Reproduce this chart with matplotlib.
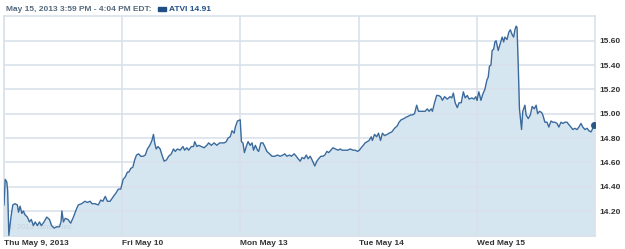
import matplotlib
matplotlib.use("Agg")
import matplotlib.pyplot as plt
import matplotlib.patches as mpatches
import numpy as np

plt.rcParams["font.family"] = ["Liberation Sans", "DejaVu Sans"]

# intraday ATVI quotes, minutes after the 9:30 open and price
days = ["Thu May 9, 2013", "Fri May 10", "Mon May 13", "Tue May 14", "Wed May 15"]

thu_min = [0, 4, 9, 12, 16, 23, 29, 36, 44, 48, 53, 59, 64, 69, 77, 84, 90, 97, 103, 110,
           117, 123, 132, 141, 150, 157, 165, 174, 183, 188, 191, 196, 202, 211, 220, 229,
           238, 245, 256, 267, 275, 284, 290, 300, 311, 319, 326, 334, 341, 350, 361, 370,
           377, 385]
thu_px = [14.25, 14.46, 14.44, 14.37, 14.00, 14.15, 14.25, 14.26, 14.25, 14.19, 14.24, 14.18,
          14.20, 14.17, 14.15, 14.11, 14.13, 14.08, 14.11, 14.08, 14.11, 14.08, 14.11, 14.15,
          14.13, 14.08, 14.06, 14.07, 14.07, 14.11, 14.20, 14.11, 14.14, 14.13, 14.10, 14.15,
          14.21, 14.25, 14.26, 14.28, 14.27, 14.28, 14.26, 14.26, 14.25, 14.29, 14.28, 14.32,
          14.28, 14.28, 14.32, 14.35, 14.38, 14.38]

fri_min = [3, 10, 17, 22, 28, 35, 41, 47, 54, 61, 69, 76, 83, 91, 98, 103, 107, 112, 118, 125,
           131, 138, 146, 153, 162, 169, 175, 182, 191, 200, 206, 213, 219, 228, 235, 239, 246,
           252, 261, 270, 279, 285, 294, 303, 312, 321, 329, 336, 343, 349, 356, 362, 369, 373,
           380, 389]
fri_px = [14.46, 14.48, 14.52, 14.52, 14.55, 14.56, 14.62, 14.66, 14.67, 14.65, 14.65, 14.66,
          14.71, 14.74, 14.78, 14.83, 14.76, 14.71, 14.73, 14.71, 14.66, 14.61, 14.62, 14.65,
          14.67, 14.71, 14.69, 14.71, 14.70, 14.73, 14.70, 14.72, 14.70, 14.73, 14.73, 14.77,
          14.73, 14.74, 14.73, 14.72, 14.74, 14.76, 14.74, 14.76, 14.74, 14.76, 14.76, 14.76,
          14.77, 14.80, 14.81, 14.86, 14.84, 14.89, 14.94, 14.95]

mon_min = [3, 8, 13, 19, 25, 32, 38, 43, 49, 56, 60, 67, 74, 80, 87, 96, 104, 113, 122, 131,
           140, 146, 153, 162, 168, 177, 184, 190, 197, 203, 210, 217, 223, 230, 236, 245, 252,
           258, 265, 272, 278, 285, 291, 298, 305, 313, 322, 329, 335, 344, 353, 362, 371, 379,
           386]
mon_px = [14.77, 14.76, 14.68, 14.73, 14.77, 14.74, 14.76, 14.70, 14.74, 14.70, 14.69, 14.76,
          14.76, 14.73, 14.69, 14.67, 14.65, 14.65, 14.66, 14.65, 14.66, 14.67, 14.65, 14.66,
          14.65, 14.67, 14.65, 14.63, 14.61, 14.64, 14.63, 14.66, 14.63, 14.65, 14.62, 14.57,
          14.61, 14.63, 14.65, 14.65, 14.66, 14.69, 14.68, 14.70, 14.72, 14.71, 14.70, 14.71,
          14.70, 14.70, 14.70, 14.71, 14.70, 14.70, 14.69]

tue_min = [2, 8, 15, 21, 28, 34, 41, 45, 52, 59, 65, 72, 78, 85, 94, 100, 109, 118, 127, 133,
           140, 149, 155, 164, 171, 177, 184, 191, 197, 206, 213, 219, 226, 232, 239, 243, 250,
           257, 263, 270, 276, 283, 292, 301, 307, 312, 318, 325, 331, 338, 345, 351, 358, 364,
           373, 380, 386, 389]
tue_px = [14.70, 14.72, 14.74, 14.76, 14.77, 14.78, 14.81, 14.78, 14.83, 14.81, 14.84, 14.78,
          14.84, 14.82, 14.83, 14.84, 14.85, 14.88, 14.90, 14.93, 14.95, 14.96, 14.97, 14.98,
          14.99, 14.99, 15.00, 15.07, 15.02, 15.02, 15.02, 15.02, 15.04, 15.02, 15.04, 15.02,
          15.09, 15.15, 15.15, 15.14, 15.11, 15.14, 15.12, 15.14, 15.13, 15.17, 15.09, 15.05,
          15.09, 15.09, 15.18, 15.13, 15.15, 15.12, 15.13, 15.12, 15.14, 15.12]

wed_min = [0, 6, 13, 19, 26, 33, 37, 41, 46, 50, 55, 59, 63, 70, 77, 83, 88, 92, 99, 105,
           110, 116, 121, 125, 129, 132, 136, 140, 147, 151, 158, 162, 169, 176, 182, 189, 195,
           200, 206, 213, 217, 224, 231, 237, 244, 250, 257, 264, 270, 277, 283, 290, 297, 303,
           310, 316, 323, 330, 336, 343, 349, 356, 363, 369, 376, 382, 387]
wed_px = [15.11, 15.18, 15.11, 15.16, 15.20, 15.28, 15.30, 15.39, 15.40, 15.52, 15.53, 15.59,
          15.60, 15.52, 15.58, 15.63, 15.59, 15.63, 15.61, 15.67, 15.69, 15.65, 15.63, 15.69,
          15.72, 15.71, 15.40, 15.04, 14.87, 15.02, 15.07, 14.99, 14.96, 14.99, 15.06, 15.04,
          15.07, 15.00, 15.02, 15.01, 14.99, 14.93, 14.93, 14.89, 14.94, 14.93, 14.93, 14.92,
          14.89, 14.93, 14.92, 14.93, 14.93, 14.91, 14.89, 14.87, 14.88, 14.87, 14.89, 14.92,
          14.89, 14.87, 14.88, 14.86, 14.85, 14.88, 14.91]

yticks = [14.20, 14.40, 14.60, 14.80, 15.00, 15.20, 15.40, 15.60]
symbol = "ATVI"
last = 14.91
header = "May 15, 2013 3:59 PM - 4:04 PM EDT:"

SESSION = 390
mins = [thu_min, fri_min, mon_min, tue_min, wed_min]
pxs = [thu_px, fri_px, mon_px, tue_px, wed_px]
x = np.concatenate([np.array(m) + i * SESSION for i, m in enumerate(mins)])
y = np.concatenate([np.array(p) for p in pxs])

line_c = "#3a6a9c"
fill_c = "#d6e6f1"
grid_c = "#d9e1ea"
fs = 6.0

fig = plt.figure(figsize=(6.25, 2.49), dpi=100)
ax = fig.add_axes([0.0064, 0.052, 0.946, 0.884])
ax.set_xlim(0, 5 * SESSION)
ax.set_ylim(13.994, 15.804)

ax.fill_between(x, y, 13.994, color=fill_c, lw=0, zorder=1)
ax.plot(x, y, color=line_c, lw=1.0, zorder=3)
ax.plot(x[-1], y[-1], "o", color="#2a5785", ms=4, zorder=4)

ax.set_yticks(yticks)
ax.set_yticklabels([f"{v:.2f}" for v in yticks])
ax.yaxis.tick_right()
ax.set_xticks([i * SESSION for i in range(5)])
ax.set_xticklabels(days)
for lab in ax.get_xticklabels():
    lab.set_horizontalalignment("left")
ax.tick_params(axis="both", length=0, labelsize=fs, labelcolor="#333333")
ax.tick_params(axis="y", pad=3)
ax.tick_params(axis="x", pad=3)
for lab in ax.get_xticklabels() + ax.get_yticklabels():
    lab.set_fontweight("bold")

ax.grid(True, color=grid_c, lw=1.2, zorder=2)
ax.set_axisbelow(False)
for s in ax.spines.values():
    s.set_color(grid_c)
    s.set_linewidth(1.2)

ax.text(0.008, 0.03, "\u00a9 2013 Yahoo! Inc.", transform=ax.transAxes,
        fontsize=5.5, color="#c7d3de", zorder=2)

fig.text(0.01, 0.963, header, fontsize=fs, fontweight="bold", color="#55697c",
         va="center")
fig.patches.append(mpatches.Rectangle((0.252, 0.955), 0.013, 0.016,
                                      transform=fig.transFigure, color="#1f4f86"))
fig.text(0.27, 0.963, f"{symbol} {last:.2f}", fontsize=fs, fontweight="bold",
         color="#1f4f86", va="center")

fig.savefig("out.png", dpi=100)
